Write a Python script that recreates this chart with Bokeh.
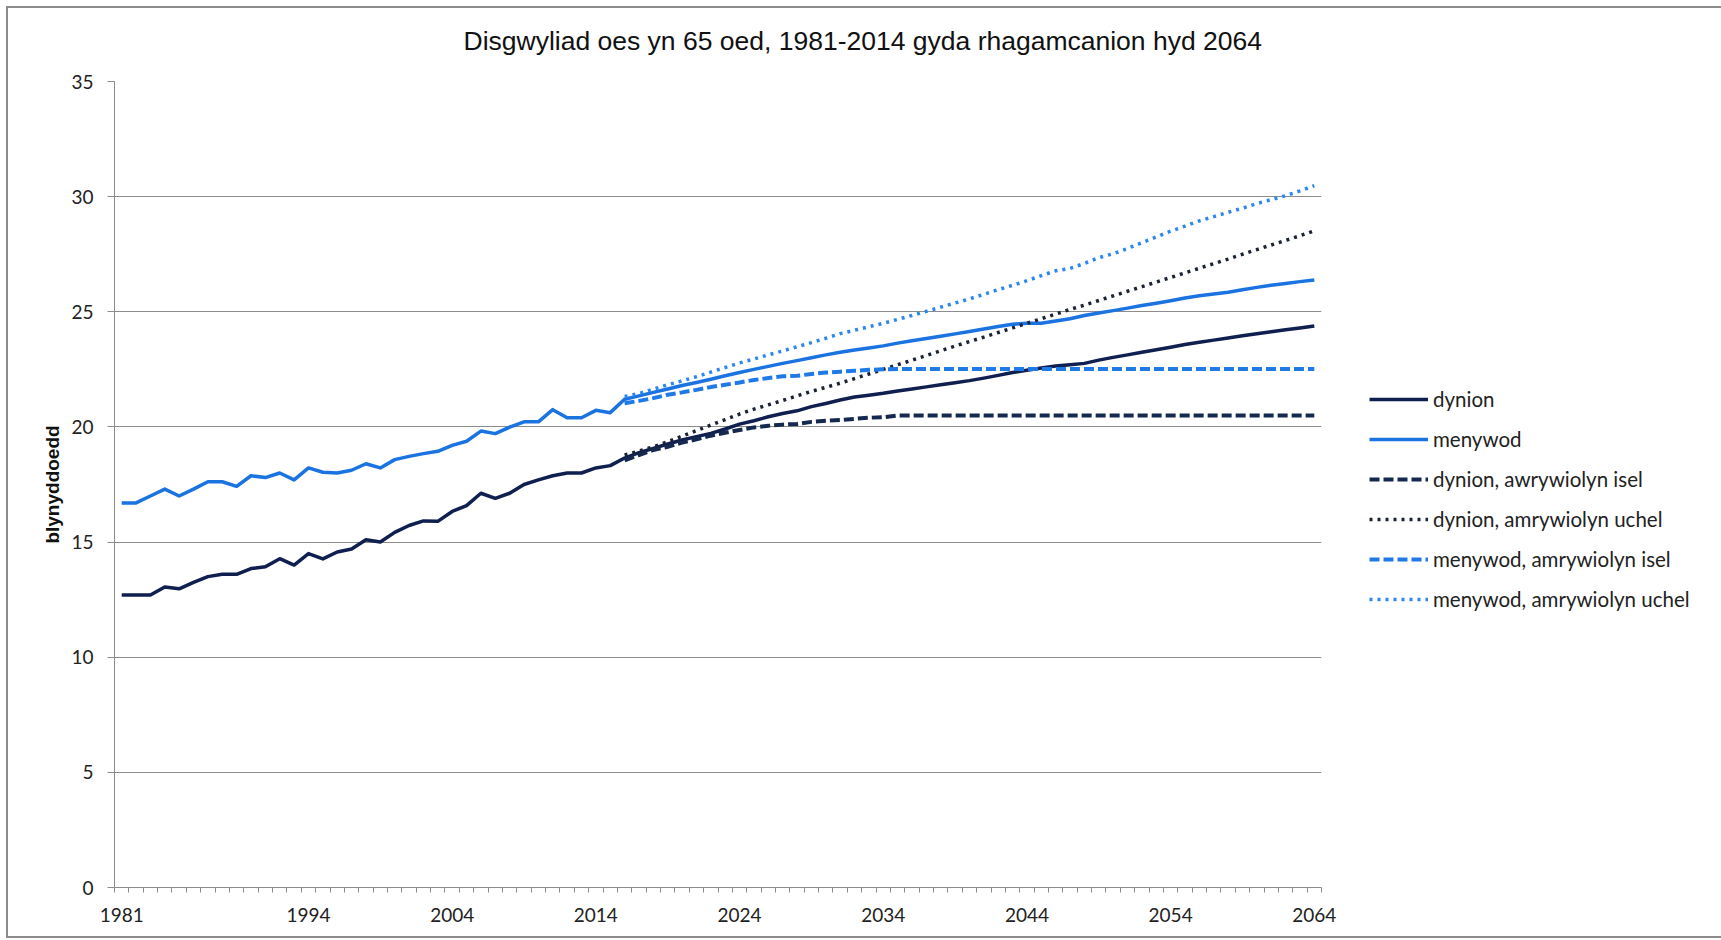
from bokeh.plotting import figure
from bokeh.models import Range1d, FixedTicker, Legend, LegendItem, Title
from bokeh.embed import file_html
from bokeh.resources import INLINE

# ---------------- data ----------------
years = list(range(1981, 2065))
dynion = [
    12.7, 12.7, 12.7, 13.05, 12.97, 13.25, 13.5, 13.6, 13.6, 13.85,
    13.93, 14.28, 14.0, 14.5, 14.27, 14.57, 14.7, 15.1, 15.0, 15.42,
    15.72, 15.92, 15.9, 16.33, 16.58, 17.12, 16.9, 17.12, 17.5, 17.7,
    17.88, 18.0, 18.0, 18.22, 18.32, 18.65, 18.88, 19.07, 19.26, 19.43,
    19.58, 19.72, 19.91, 20.12, 20.27, 20.44, 20.58, 20.7, 20.88, 21.02,
    21.17, 21.3, 21.38, 21.46, 21.56, 21.65, 21.74, 21.83, 21.92, 22.01,
    22.12, 22.24, 22.36, 22.46, 22.56, 22.65, 22.7, 22.76, 22.9, 23.02,
    23.13, 23.24, 23.35, 23.46, 23.58, 23.68, 23.77, 23.86, 23.96, 24.05,
    24.13, 24.22, 24.3, 24.38,
]
menywod = [
    16.7, 16.7, 17.0, 17.3, 17.0, 17.3, 17.62, 17.62, 17.42, 17.88,
    17.8, 18.0, 17.7, 18.22, 18.03, 18.0, 18.12, 18.4, 18.22, 18.58,
    18.72, 18.84, 18.94, 19.2, 19.38, 19.82, 19.71, 19.99, 20.22, 20.22,
    20.75, 20.4, 20.4, 20.72, 20.62, 21.2, 21.35, 21.5, 21.65, 21.8,
    21.93, 22.07, 22.22, 22.36, 22.5, 22.63, 22.76, 22.88, 23.0, 23.13,
    23.24, 23.34, 23.43, 23.52, 23.64, 23.74, 23.84, 23.94, 24.04, 24.14,
    24.25, 24.36, 24.46, 24.5, 24.5, 24.6, 24.7, 24.84, 24.95, 25.05,
    25.16, 25.27, 25.37, 25.48, 25.6, 25.7, 25.77, 25.85, 25.96, 26.06,
    26.15, 26.23, 26.31, 26.38,
]
proj_years = list(range(2016, 2065))
dynion_isel = [
    18.55, 18.78, 19.0, 19.14, 19.32, 19.46, 19.62, 19.75, 19.87, 19.98,
    20.05, 20.1, 20.13, 20.22, 20.27, 20.3, 20.35, 20.4, 20.42, 20.5,
    20.5, 20.5, 20.5, 20.5, 20.5, 20.5, 20.5, 20.5, 20.5, 20.5,
    20.5, 20.5, 20.5, 20.5, 20.5, 20.5, 20.5, 20.5, 20.5, 20.5,
    20.5, 20.5, 20.5, 20.5, 20.5, 20.5, 20.5, 20.5, 20.5,
]
dynion_uchel = [
    18.78, 18.95, 19.14, 19.36, 19.6, 19.84, 20.08, 20.32, 20.56, 20.77,
    20.96, 21.15, 21.35, 21.54, 21.72, 21.9, 22.1, 22.3, 22.5, 22.7,
    22.9, 23.1, 23.31, 23.51, 23.71, 23.9, 24.1, 24.3, 24.5, 24.7,
    24.9, 25.1, 25.29, 25.49, 25.69, 25.89, 26.09, 26.29, 26.49, 26.69,
    26.89, 27.09, 27.29, 27.5, 27.7, 27.9, 28.1, 28.3, 28.52,
]
menywod_isel = [
    21.03, 21.13, 21.25, 21.4, 21.5, 21.61, 21.73, 21.83, 21.93, 22.04,
    22.12, 22.2, 22.22, 22.3, 22.36, 22.4, 22.44, 22.48, 22.5, 22.52,
    22.52, 22.52, 22.52, 22.52, 22.52, 22.52, 22.52, 22.52, 22.52, 22.52,
    22.52, 22.52, 22.52, 22.52, 22.52, 22.52, 22.52, 22.52, 22.52, 22.52,
    22.52, 22.52, 22.52, 22.52, 22.52, 22.52, 22.52, 22.52, 22.52,
]
menywod_uchel = [
    21.32, 21.45, 21.64, 21.83, 22.0, 22.18, 22.38, 22.58, 22.78, 22.95,
    23.13, 23.3, 23.48, 23.66, 23.85, 24.05, 24.2, 24.35, 24.5, 24.67,
    24.84, 25.02, 25.2, 25.38, 25.56, 25.76, 25.96, 26.15, 26.35, 26.57,
    26.78, 26.88, 27.1, 27.35, 27.52, 27.75, 28.0, 28.25, 28.5, 28.72,
    28.95, 29.13, 29.32, 29.5, 29.7, 29.87, 30.04, 30.25, 30.48,
]
x_label_years = [1981, 1994, 2004, 2014, 2024, 2034, 2044, 2054, 2064]
y_ticks = [0, 5, 10, 15, 20, 25, 30, 35]

title_text = "Disgwyliad oes yn 65 oed, 1981-2014 gyda rhagamcanion hyd 2064"
y_label = "blynyddoedd"
labels = [
    "dynion",
    "menywod",
    "dynion, awrywiolyn isel",
    "dynion, amrywiolyn uchel",
    "menywod, amrywiolyn isel",
    "menywod, amrywiolyn uchel",
]

# ---------------- figure ----------------
p = figure(
    frame_width=1207, frame_height=806, output_backend="svg", toolbar_location=None,
    x_range=Range1d(years[0] - 0.5, years[-1] + 0.5),
    y_range=Range1d(0, 35),
    min_border_left=106, min_border_right=32,
    min_border_top=72, min_border_bottom=49,
)
p.styles = {"border": "2px solid #8c8c8c", "margin": "6px 0 0 6px"}
p.outline_line_color = None
p.background_fill_color = "white"
p.border_fill_color = "white"

# title (left-aligned with offset so that it is centred on the whole picture)
p.title.text = title_text
p.title.align = "left"
p.title.offset = 349
p.title.vertical_align = "bottom"
p.title.standoff = 30
p.title.text_font = "Liberation Sans"
p.title.text_font_style = "normal"
p.title.text_font_size = "26.5px"
p.title.text_color = "#111111"
# thin spacer between title and plot area
p.add_layout(Title(text=" ", text_font_size="5px", standoff=3), "above")

# axes
p.xaxis.ticker = FixedTicker(ticks=x_label_years,
                             minor_ticks=[y - 0.5 for y in years] + [years[-1] + 0.5])
p.xaxis.major_tick_line_color = None
p.xaxis.major_tick_out = 0
p.xaxis.major_tick_in = 0
p.xaxis.minor_tick_line_color = "#8c8c8c"
p.xaxis.minor_tick_out = 5
p.xaxis.minor_tick_in = 0
p.xaxis.axis_line_color = "#8c8c8c"
p.xaxis.major_label_standoff = 15
p.xaxis.major_label_text_font = "Lato"
p.xaxis.major_label_text_font_size = "19px"
p.xaxis.major_label_text_color = "#222222"

p.yaxis.ticker = FixedTicker(ticks=y_ticks)
p.yaxis.minor_tick_line_color = None
p.yaxis.major_tick_out = 7
p.yaxis.major_tick_in = 0
p.yaxis.major_tick_line_color = "#8c8c8c"
p.yaxis.axis_line_color = "#8c8c8c"
p.yaxis.major_label_standoff = 14
p.yaxis.major_label_text_font = "Lato"
p.yaxis.major_label_text_font_size = "19px"
p.yaxis.major_label_text_color = "#222222"
p.yaxis.axis_label = y_label
p.yaxis.axis_label_text_font = "Liberation Sans"
p.yaxis.axis_label_text_font_style = "bold"
p.yaxis.axis_label_text_font_size = "19px"
p.yaxis.axis_label_text_color = "#111111"
p.yaxis.axis_label_standoff = 5

p.xgrid.grid_line_color = None
p.ygrid.grid_line_color = "#8c8c8c"
p.ygrid.grid_line_width = 1

# lines
navy = "#0f1f4f"
blue = "#1a73e0"
r1 = p.line(years, dynion, line_color=navy, line_width=3.5, line_join="round")
r2 = p.line(years, menywod, line_color=blue, line_width=3.5, line_join="round")
r3 = p.line(proj_years, dynion_isel, line_color="#15284f", line_width=4, line_dash="10 4")
r4 = p.line(proj_years, dynion_uchel, line_color="#1a2236", line_width=3.5, line_dash="3 5")
r5 = p.line(proj_years, menywod_isel, line_color="#1f7ae8", line_width=4, line_dash="10 4")
r6 = p.line(proj_years, menywod_uchel, line_color="#2b86f0", line_width=3.5, line_dash="3 5")

legend = Legend(
    items=[LegendItem(label=l, renderers=[r]) for l, r in zip(labels, [r1, r2, r3, r4, r5, r6])],
    location=(48, 268), orientation="vertical",
    padding=0, margin=0, spacing=0,
    glyph_height=40, label_height=40, glyph_width=59, label_standoff=5,
    border_line_color=None, background_fill_alpha=0,
    label_text_font="Lato", label_text_font_size="20.5px", label_text_color="#222222",
)
p.add_layout(legend, "right")

open("out.html", "w").write(file_html(p, INLINE))
